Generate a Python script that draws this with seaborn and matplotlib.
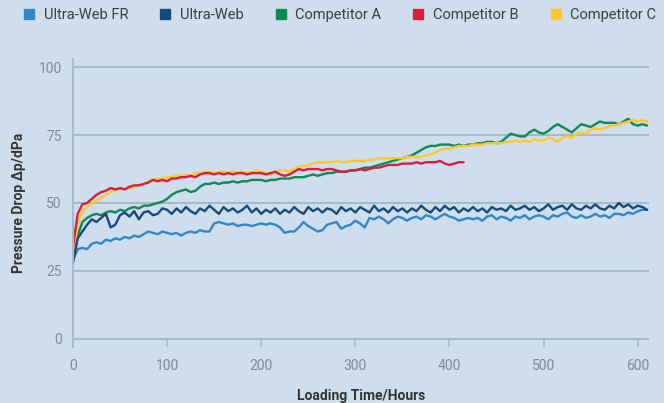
import matplotlib
matplotlib.use("Agg")
import matplotlib.pyplot as plt
from matplotlib.lines import Line2D
import seaborn as sns

hours = list(range(0, 615, 5))
hours_b = list(range(0, 420, 5))

ultra_web_fr = [
    29, 33, 33.5, 33, 35, 35.5, 35, 36.5, 36, 37, 36.5, 37.5, 37, 38, 37.5, 38.5,
    39.5, 39, 38.5, 39.5, 39, 38.5, 39, 38, 39, 39.5, 39, 40, 39.5, 39.5, 42.5, 43,
    42.5, 42, 42.5, 41.5, 42, 42, 41.5, 42, 42.5, 42, 42.5, 42, 41, 39, 39.5, 39.5,
    41, 43, 41.5, 40.5, 39.5, 40, 42, 42.5, 43, 40.5, 41.5, 42, 43.5, 42.5, 41, 44.5,
    44, 45, 44, 42.5, 44, 45, 44.5, 43.5, 44.5, 45, 44, 45.5, 45, 44, 45, 46,
    45, 44.5, 43.5, 44, 44.5, 44, 44.5, 43.5, 45, 45.5, 44, 45, 44.5, 43.5, 45, 44.5,
    45.5, 44, 45, 45.5, 45, 44, 45.5, 45, 46, 46.5, 45, 44.5, 45.5, 44.5, 45, 46,
    45, 45.5, 44.5, 46, 46, 45.5, 46.5, 46, 47, 47.5, 47.5,
]
ultra_web = [
    28, 37, 39.5, 42, 44, 43, 44.5, 46, 41, 42, 45.5, 46.5, 45, 47, 44, 46.5,
    47, 45.5, 46, 48, 47.5, 46, 48, 46.5, 48.5, 47, 46, 48, 47, 49, 47.5, 46,
    48.5, 47, 48, 46.5, 47.5, 49, 46.5, 48, 46, 47.5, 46.5, 48, 46, 47.5, 46.5, 48.5,
    47, 46, 48.5, 47, 48, 46.5, 48, 47.5, 46, 48.5, 47, 48, 46.5, 48.5, 47.5, 46.5,
    49, 47, 48, 46.5, 48.5, 47, 48, 46.5, 48, 47, 49, 47.5, 46.5, 48.5, 47, 49,
    47.5, 48.5, 46.5, 48, 47, 48.5, 47, 48, 46.5, 48.5, 47.5, 48, 47, 49, 47.5, 48,
    49, 47.5, 48.5, 47, 48, 49.5, 47.5, 48.5, 49, 47.5, 49.5, 48, 47.5, 49, 48, 49.5,
    48, 47.5, 49, 48, 50, 48.5, 49.5, 48, 49, 48.5, 47.5,
]
competitor_a = [
    30, 38, 43, 44.5, 45.5, 46, 45.5, 46.5, 47, 46.5, 47.5, 47, 48, 48.5, 48, 49,
    49, 49.5, 50, 50.5, 51.5, 53, 54, 54.5, 55, 54, 54.5, 56, 57, 57, 57.5, 57,
    57.5, 57.5, 58, 57.5, 58, 58, 58.5, 58.5, 58.5, 58, 58.5, 58.5, 59, 59, 59, 59.5,
    59.5, 59.5, 60, 60.5, 60, 60.5, 61, 61, 61.5, 61.5, 61.5, 62, 62, 62.5, 63, 63,
    63.5, 64, 64.5, 65, 65.5, 66, 66.5, 67, 67.5, 68.5, 69.5, 70.5, 71, 71, 71.5, 71.5,
    71.5, 71, 71.5, 71, 71.5, 71.5, 72, 72, 72.5, 72.5, 72, 72.5, 74, 75.5, 75, 74.5,
    74.5, 76, 77, 76, 75.5, 76.5, 78, 79, 78, 77, 76, 77.5, 79, 78.5, 78, 79,
    80, 79.5, 79.5, 79.5, 79, 80, 81, 79, 78.5, 79, 78.5,
]
competitor_b = [
    34, 46, 49.5, 50, 51.5, 53, 54, 54.5, 55.5, 55, 55.5, 55, 56, 56.5, 56.5, 57,
    57.5, 58.5, 58, 58.5, 58, 59, 59, 59.5, 59.5, 60, 59.5, 60.5, 61, 61, 60.5, 61,
    60.5, 61, 60.5, 61, 61, 60.5, 61, 61, 61, 60.5, 61, 61.5, 60.5, 60, 60.5, 61.5,
    62.5, 62, 62.5, 62.5, 62.5, 62, 62.5, 62.5, 62, 61.5, 61.5, 62, 62, 62.5, 62, 62.5,
    63, 63, 63.5, 64, 64, 64, 64.5, 64.5, 64.5, 65, 64.5, 65, 65, 65, 65.5, 64.5,
    64, 64.5, 65, 65,
]
competitor_c = [
    30, 42, 47, 48.5, 50, 51, 52, 53, 54, 54.5, 55.5, 55, 55.5, 56, 56.5, 57,
    58, 58.5, 59, 59, 59.5, 59.5, 60, 60, 60.5, 60, 61, 61, 61.5, 61.5, 61, 61.5,
    61.5, 61, 61.5, 61.5, 61.5, 61, 61.5, 62, 61.5, 61, 60.5, 61.5, 62, 62, 61.5, 62.5,
    63.5, 63.5, 64, 64.5, 65, 65, 65, 65, 65.5, 65, 65, 65.5, 65.5, 65.5, 65.5, 66,
    66, 66.5, 66.5, 66.5, 66.5, 66.5, 66.5, 67, 67, 67, 67, 67.5, 68, 68.5, 69.5, 70,
    70, 70.5, 71, 71, 71, 71.5, 71.5, 71.5, 72, 72, 72, 72, 72.5, 72.5, 73, 72.5,
    73, 72.5, 73.5, 73, 73, 74, 73.5, 72.5, 74, 74.5, 74, 75.5, 76, 75.5, 77, 77.5,
    77, 77.5, 78.5, 78.5, 79, 79.5, 80, 80.5, 80, 80.5, 80,
]

labels = ["Ultra-Web FR", "Ultra-Web", "Competitor A", "Competitor B", "Competitor C"]
colors = ["#3386c7", "#174a7c", "#0b8a58", "#d81e3c", "#fdc82f"]

bg = "#cedeed"
grid_c = "#a8b9c8"
sns.set_style("white", {"axes.facecolor": bg, "figure.facecolor": bg})
plt.rcParams["font.family"] = ["Roboto", "DejaVu Sans"]

fig = plt.figure(figsize=(6.64, 4.03), dpi=100)
ax = fig.add_axes([0.1099, 0.139, 0.8675, 0.7146])

# draw back to front like the original
sns.lineplot(x=hours, y=competitor_a, color=colors[2], lw=1.7, ax=ax)
sns.lineplot(x=hours, y=competitor_c, color=colors[4], lw=1.7, ax=ax)
sns.lineplot(x=hours_b, y=competitor_b, color=colors[3], lw=1.7, ax=ax)
sns.lineplot(x=hours, y=ultra_web_fr, color=colors[0], lw=1.7, ax=ax)
sns.lineplot(x=hours, y=ultra_web, color=colors[1], lw=1.7, ax=ax)

ax.set_xlim(0, 612)
ax.set_ylim(-3, 103)
ax.set_yticks([0, 25, 50, 75, 100])
ax.set_xticks([0, 100, 200, 300, 400, 500, 600])
for v in [0, 25, 50, 75, 100]:
    ax.axhline(v, color=grid_c, lw=1.5, zorder=0)

for s in ["top", "right", "bottom"]:
    ax.spines[s].set_visible(False)
ax.spines["left"].set_color(grid_c)
ax.spines["left"].set_linewidth(1.5)

ax.tick_params(axis="x", direction="in", length=6, width=1.2, color=grid_c,
               pad=9, labelsize=10, labelcolor="#7d8a97", bottom=True)
ax.tick_params(axis="y", length=0, pad=8, labelsize=10, labelcolor="#7d8a97")

ax.set_xlabel("Loading Time/Hours", fontsize=10, fontweight="bold",
              color="#333333", labelpad=11)
ax.set_ylabel("Pressure Drop \u0394p/dPa", fontsize=10, fontweight="bold",
              color="#333333", labelpad=9)

handles = [Line2D([], [], marker="s", linestyle="", markersize=7, color=c) for c in colors]
fig.legend(handles, labels, loc="center left", bbox_to_anchor=(0.015, 0.962),
           ncol=5, frameon=False, fontsize=10.5, handlelength=0.8,
           handletextpad=0.6, columnspacing=2.15, labelcolor="#3a3f45")

fig.savefig("out.png", dpi=100)
